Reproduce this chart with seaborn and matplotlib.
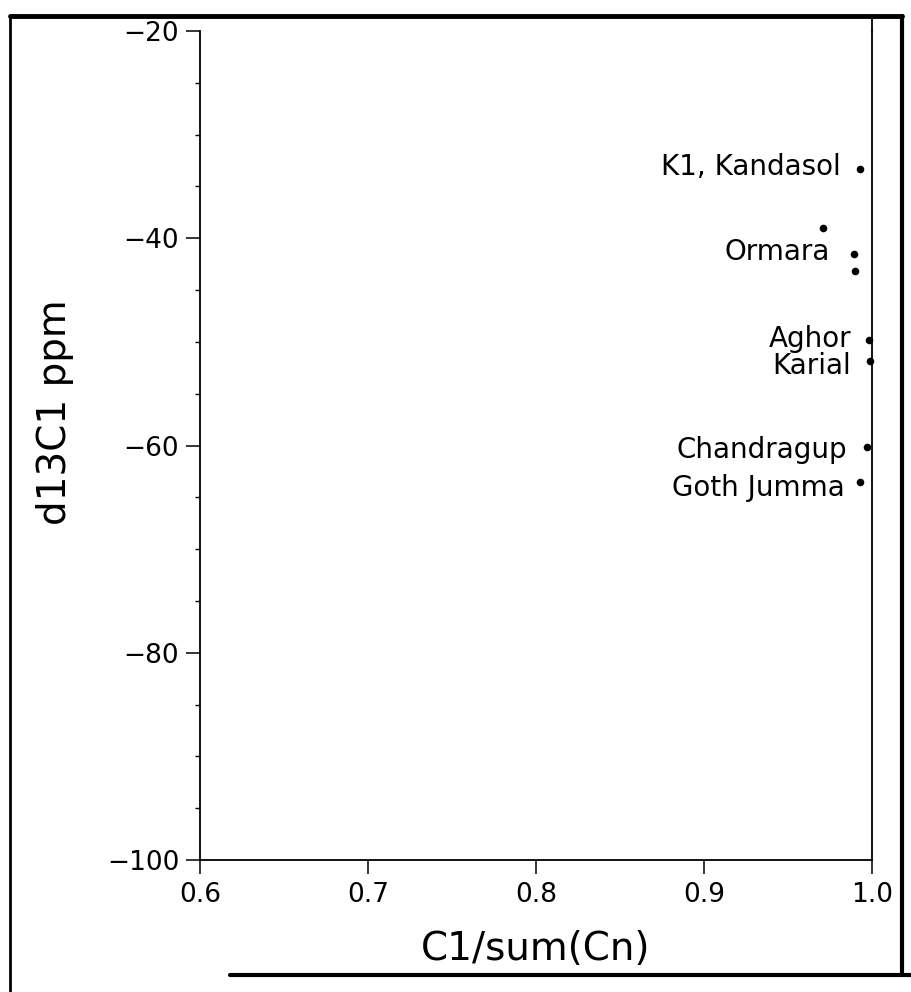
import matplotlib
matplotlib.use("Agg")
import matplotlib.pyplot as plt
from matplotlib.lines import Line2D
from matplotlib.ticker import MultipleLocator
import pandas as pd
import seaborn as sns

# ---- data ----
c1_ratio = [0.993, 0.971, 0.989, 0.990, 0.998, 0.999, 0.997, 0.993]
d13c1 = [-33.3, -39.0, -41.5, -43.2, -49.8, -51.8, -60.1, -63.5]
point_labels = ["K1, Kandasol", "", "Ormara", "", "Aghor", "Karial",
                "Chandragup", "Goth Jumma"]
x_ticks = [0.6, 0.7, 0.8, 0.9, 1.0]
x_tick_labels = ["0.6", "0.7", "0.8", "0.9", "1.0"]
y_ticks = [-100, -80, -60, -40, -20]
y_tick_labels = ["\u2212100", "\u221280", "\u221260", "\u221240", "\u221220"]
x_title = "C1/sum(Cn)"
y_title = "d13C1 ppm"

# label offsets in pixels (style, not data)
label_offsets = [(-19, 2), (0, 0), (-24, 2), (0, 0), (-17, 1), (-19, -5),
                 (-20, -3), (-15, -6)]

df = pd.DataFrame({"ratio": c1_ratio, "d13c1": d13c1, "label": point_labels})

sns.set_theme(style="ticks")
plt.rcParams["font.family"] = ["DejaVu Sans"]
plt.rcParams["axes.linewidth"] = 1.2

W, H = 912, 992
fig = plt.figure(figsize=(W / 100, H / 100), dpi=100)
fig.patch.set_facecolor("white")

left, right, top, bottom = 200, 872, 31, 860
ax = fig.add_axes([left / W, 1 - bottom / H, (right - left) / W, (bottom - top) / H])
ax.set_facecolor("white")

sns.scatterplot(data=df, x="ratio", y="d13c1", ax=ax, color="black",
                s=30, edgecolor="black", linewidth=0, legend=False, zorder=5,
                clip_on=False)

for (x, y, lab), (dx, dy) in zip(zip(c1_ratio, d13c1, point_labels), label_offsets):
    if lab:
        ax.annotate(lab, (x, y), xytext=(dx, dy), textcoords="offset pixels",
                    ha="right", va="center", fontsize=20, color="black")

ax.set_xlim(0.6, 1.0)
ax.set_ylim(-100, -20)
ax.set_xticks(x_ticks)
ax.set_xticklabels(x_tick_labels)
ax.set_yticks(y_ticks)
ax.set_yticklabels(y_tick_labels)
ax.yaxis.set_minor_locator(MultipleLocator(5))

ax.tick_params(axis="both", which="major", direction="out", length=10,
               width=1.1, color="black", labelsize=19, labelcolor="black")
ax.tick_params(axis="x", which="major", pad=6)
ax.tick_params(axis="y", which="major", pad=5)
ax.tick_params(axis="y", which="minor", direction="out", length=3.6, width=1.0,
               color="black")

ax.spines["top"].set_visible(False)
for s in ["left", "bottom", "right"]:
    ax.spines[s].set_visible(True)
    ax.spines[s].set_color("black")
    ax.spines[s].set_linewidth(1.3)

ax.set_xlabel(x_title, fontsize=28, labelpad=16, color="black")
ax.set_ylabel(y_title, fontsize=28, color="black")
ax.yaxis.set_label_coords((74 - left) / (right - left), (bottom - 412) / (bottom - top))

# outer page frame of the scanned figure
def px(x, y):
    return x / W, 1 - y / H

frame = [((10, 16), (10, 992), 2.0), ((10, 16), (902, 16), 3.5),
         ((902, 16), (902, 975), 3.0), ((230, 975), (912, 975), 3.0),
         ((right, 16), (right, top), 1.3)]
for (x0, y0), (x1, y1), lw in frame:
    a, b = px(x0, y0)
    c, d = px(x1, y1)
    fig.add_artist(Line2D([a, c], [b, d], transform=fig.transFigure,
                          color="black", linewidth=lw))

fig.savefig("out.png", dpi=100, facecolor="white")
